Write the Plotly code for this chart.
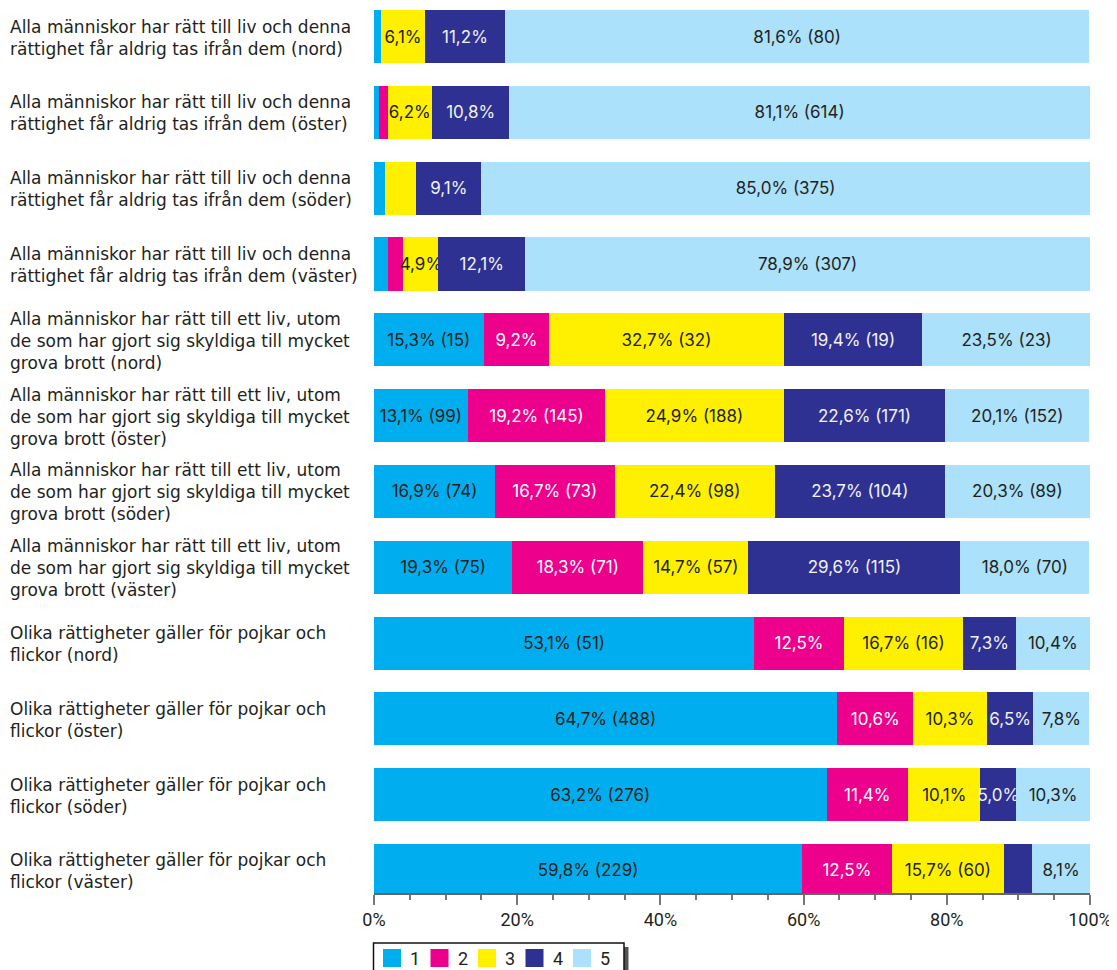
import plotly.graph_objects as go

categories = [
    "Alla människor har rätt till liv och denna<br>rättighet får aldrig tas ifrån dem (nord)",
    "Alla människor har rätt till liv och denna<br>rättighet får aldrig tas ifrån dem (öster)",
    "Alla människor har rätt till liv och denna<br>rättighet får aldrig tas ifrån dem (söder)",
    "Alla människor har rätt till liv och denna<br>rättighet får aldrig tas ifrån dem (väster)",
    "Alla människor har rätt till ett liv, utom<br>de som har gjort sig skyldiga till mycket<br>grova brott (nord)",
    "Alla människor har rätt till ett liv, utom<br>de som har gjort sig skyldiga till mycket<br>grova brott (öster)",
    "Alla människor har rätt till ett liv, utom<br>de som har gjort sig skyldiga till mycket<br>grova brott (söder)",
    "Alla människor har rätt till ett liv, utom<br>de som har gjort sig skyldiga till mycket<br>grova brott (väster)",
    "Olika rättigheter gäller för pojkar och<br>flickor (nord)",
    "Olika rättigheter gäller för pojkar och<br>flickor (öster)",
    "Olika rättigheter gäller för pojkar och<br>flickor (söder)",
    "Olika rättigheter gäller för pojkar och<br>flickor (väster)",
]

series_names = ["1", "2", "3", "4", "5"]

s1 = [1.0, 0.7, 1.5, 2.0, 15.3, 13.1, 16.9, 19.3, 53.1, 64.7, 63.2, 59.8]
s2 = [0.0, 1.2, 0.0, 2.1, 9.2, 19.2, 16.7, 18.3, 12.5, 10.6, 11.4, 12.5]
s3 = [6.1, 6.2, 4.4, 4.9, 32.7, 24.9, 22.4, 14.7, 16.7, 10.3, 10.1, 15.7]
s4 = [11.2, 10.8, 9.1, 12.1, 19.4, 22.6, 23.7, 29.6, 7.3, 6.5, 5.0, 3.9]
s5 = [81.6, 81.1, 85.0, 78.9, 23.5, 20.1, 20.3, 18.0, 10.4, 7.8, 10.3, 8.1]

t1 = ["", "", "", "", "15,3% (15)", "13,1% (99)", "16,9% (74)", "19,3% (75)",
      "53,1% (51)", "64,7% (488)", "63,2% (276)", "59,8% (229)"]
t2 = ["", "", "", "", "9,2%", "19,2% (145)", "16,7% (73)", "18,3% (71)",
      "12,5%", "10,6%", "11,4%", "12,5%"]
t3 = ["6,1%", "6,2%", "", "4,9%", "32,7% (32)", "24,9% (188)", "22,4% (98)", "14,7% (57)",
      "16,7% (16)", "10,3%", "10,1%", "15,7% (60)"]
t4 = ["11,2%", "10,8%", "9,1%", "12,1%", "19,4% (19)", "22,6% (171)", "23,7% (104)", "29,6% (115)",
      "7,3%", "6,5%", "5,0%", ""]
t5 = ["81,6% (80)", "81,1% (614)", "85,0% (375)", "78,9% (307)", "23,5% (23)", "20,1% (152)",
      "20,3% (89)", "18,0% (70)", "10,4%", "7,8%", "10,3%", "8,1%"]

x_tickvals = [0, 20, 40, 60, 80, 100]
x_ticktext = ["0%", "20%", "40%", "60%", "80%", "100%"]

colors = ["#00AEEF", "#EC008C", "#FFF000", "#2E3192", "#ABE1FA"]
text_colors = ["#231F20", "#FFFFFF", "#231F20", "#F2F2F2", "#231F20"]

values = [s1, s2, s3, s4, s5]
texts = [t1, t2, t3, t4, t5]

LABEL_SIZE = 17

fig = go.Figure()
for i in range(5):
    fig.add_trace(go.Bar(
        y=categories, x=values[i], orientation="h", name=series_names[i],
        marker=dict(color=colors[i], line=dict(width=0)),
        text=texts[i], textposition="inside", insidetextanchor="middle", textangle=0,
        insidetextfont=dict(family="Inter, Roboto, sans-serif", size=LABEL_SIZE, color=text_colors[i]),
        width=0.70, showlegend=False, hoverinfo="x+name",
    ))

# page body has an 8px margin; work in page pixels and subtract it
OFF = 8
PAGE_W, PAGE_H = 1117, 970
L, R, T, B = 374, 1090, 10, 893
W, H = R - L, B - T


def px(x):
    return (x - L) / W


def py(y):
    return (B - y) / H


annotations = []
for c in categories:
    annotations.append(dict(
        x=px(8), y=c, xref="paper", yref="y", yshift=-1, text=c, showarrow=False,
        xanchor="left", yanchor="middle", align="left",
        font=dict(family="DejaVu Sans, Liberation Sans, sans-serif", size=17, color="#231F20"),
    ))

shapes = []
# legend box with shadow
shapes.append(dict(type="rect", xref="paper", yref="paper", x0=px(624), x1=px(628.5),
                   y0=py(972), y1=py(947), fillcolor="#555555", line=dict(width=0), layer="above"))
shapes.append(dict(type="rect", xref="paper", yref="paper", x0=px(373.5), x1=px(624),
                   y0=py(972), y1=py(943), fillcolor="white", line=dict(color="#111111", width=1.5),
                   layer="above"))
for i in range(5):
    x0 = 383 + 47.5 * i
    shapes.append(dict(type="rect", xref="paper", yref="paper", x0=px(x0), x1=px(x0 + 18),
                       y0=py(967), y1=py(949), fillcolor=colors[i], line=dict(width=0), layer="above"))
    annotations.append(dict(
        x=px(x0 + 25), y=py(958), xref="paper", yref="paper", text=series_names[i], showarrow=False,
        xanchor="left", yanchor="middle",
        font=dict(family="Liberation Sans Narrow, Roboto, sans-serif", size=18, color="#231F20"),
    ))

fig.update_layout(
    barmode="stack",
    width=PAGE_W - OFF, height=PAGE_H - OFF,
    margin=dict(l=L - OFF, r=PAGE_W - R, t=T - OFF, b=PAGE_H - B, pad=0),
    paper_bgcolor="white", plot_bgcolor="white",
    uniformtext=dict(minsize=LABEL_SIZE, mode="show"),
    annotations=annotations,
    shapes=shapes,
    showlegend=False,
    xaxis=dict(
        range=[0, 100], tickvals=x_tickvals, ticktext=x_ticktext,
        ticks="outside", ticklen=10, tickwidth=1.5, tickcolor="#777777",
        minor=dict(dtick=5, ticks="outside", ticklen=5, tickwidth=1.5, tickcolor="#777777"),
        showline=True, linecolor="#666666", linewidth=1.5,
        showgrid=False, zeroline=False,
        tickfont=dict(family="Liberation Sans Narrow, Roboto, sans-serif", size=18, color="#231F20"),
    ),
    yaxis=dict(
        categoryorder="array", categoryarray=categories,
        range=[11.297, -0.35], showticklabels=False, showgrid=False, zeroline=False,
        showline=False, ticks="",
    ),
)

fig.write_html("out.html")
